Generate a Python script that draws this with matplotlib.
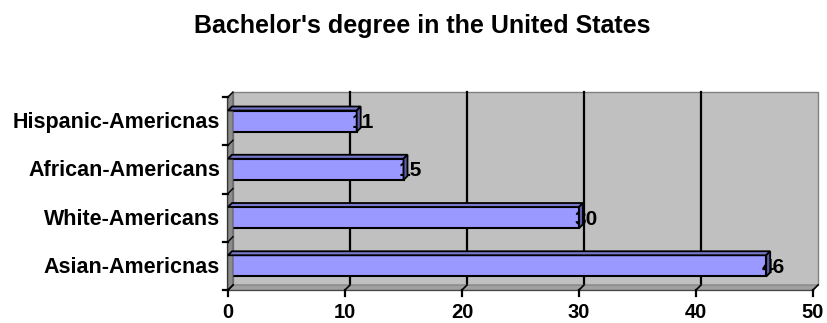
import matplotlib
matplotlib.use("Agg")
import matplotlib.pyplot as plt
from matplotlib.patches import Polygon, Rectangle
from matplotlib.transforms import offset_copy

categories = ["Asian-Americnas", "White-Americans", "African-Americans", "Hispanic-Americnas"]
values = [46, 30, 15, 11]
xticks = [0, 10, 20, 30, 40, 50]
title = "Bachelor's degree in the United States"

DPI = 100
W, H = 827, 323
fig = plt.figure(figsize=(W / DPI, H / DPI), dpi=DPI)
fig.patch.set_facecolor("white")
ax = fig.add_axes([228 / W, 33 / H, 585 / W, 193 / H])
ax.set_xlim(0, 50)
ax.set_ylim(-0.5, len(categories) - 0.5)
ax.axis("off")

FONT = "Liberation Sans"
D = 5  # depth offset in pixels
back = offset_copy(ax.transData, fig=fig, x=D, y=D, units="dots")
ymin, ymax = -0.5, len(categories) - 0.5

# back wall
ax.add_patch(Rectangle((0, ymin), 50, ymax - ymin, transform=back,
                       facecolor="#C0C0C0", edgecolor="#808080", lw=1, zorder=0, clip_on=False))
# gridlines on back wall
for t in xticks[1:-1]:
    ax.plot([t, t], [ymin, ymax], color="black", lw=1.6, transform=back, zorder=1, clip_on=False)

def px(x, y):
    return ax.transData.transform((x, y))

# floor
p0 = px(0, ymin); p1 = px(50, ymin)
floor = Polygon([p0, p1, (p1[0] + D, p1[1] + D), (p0[0] + D, p0[1] + D)], closed=True,
                transform=None, facecolor="#A0A0A0", edgecolor="#808080", lw=0.8, zorder=1)
fig.add_artist(floor)
# left wall
q0 = px(0, ymin); q1 = px(0, ymax)
lwall = Polygon([q0, q1, (q1[0] + D, q1[1] + D), (q0[0] + D, q0[1] + D)], closed=True,
                transform=None, facecolor="#8C8C8C", edgecolor="#606060", lw=0.8, zorder=1)
fig.add_artist(lwall)
# floor diagonal tick connectors
for t in xticks:
    a = px(t, ymin)
    fig.add_artist(plt.Line2D([a[0], a[0] + D], [a[1], a[1] + D], transform=None,
                              color="black", lw=1.2, zorder=2))
for i in range(len(categories) + 1):
    a = px(0, ymin + i)
    fig.add_artist(plt.Line2D([a[0], a[0] + D], [a[1], a[1] + D], transform=None,
                              color="black", lw=1.0, zorder=2))

# bars
bh = 0.44
ypos = list(range(len(categories)))
bars = ax.barh(ypos, values, height=bh, color="#9999FF", edgecolor="black", lw=1.5, zorder=5)
d = 4
for y, v in zip(ypos, values):
    x0, yb = px(0, y - bh / 2)
    x1, yt = px(v, y + bh / 2)
    top = Polygon([(x0, yt), (x1, yt), (x1 + d, yt + d), (x0 + d, yt + d)], closed=True,
                  transform=None, facecolor="#7777CC", edgecolor="black", lw=1.3, zorder=6)
    side = Polygon([(x1, yb), (x1, yt), (x1 + d, yt + d), (x1 + d, yb + d)], closed=True,
                   transform=None, facecolor="#5C5CA8", edgecolor="black", lw=1.3, zorder=6)
    fig.add_artist(top); fig.add_artist(side)
    lab = offset_copy(ax.transData, fig=fig, x=-5, y=-7, units="dots")
    ax.text(v, y, f"{v}", transform=lab, ha="left", va="baseline", fontsize=15,
            fontweight="bold", family=FONT, zorder=10, clip_on=False)

# front axes lines
ax.plot([0, 50], [ymin, ymin], color="black", lw=1.6, zorder=8, clip_on=False)
ax.plot([0, 0], [ymin, ymax], color="black", lw=1.6, zorder=8, clip_on=False)
for t in xticks:
    a = px(t, ymin)
    fig.add_artist(plt.Line2D([a[0], a[0]], [a[1], a[1] - 6], transform=None,
                              color="black", lw=1.6, zorder=8))
    ax.text(t, ymin, str(t), transform=offset_copy(ax.transData, fig=fig, x=0, y=-28, units="dots"),
            ha="center", va="baseline", fontsize=14.5, fontweight="bold", family=FONT)
for i in range(len(categories) + 1):
    a = px(0, ymin + i)
    fig.add_artist(plt.Line2D([a[0] - 5, a[0]], [a[1], a[1]], transform=None,
                              color="black", lw=1.6, zorder=8))
for y, c in zip(ypos, categories):
    ax.text(0, y, c, transform=offset_copy(ax.transData, fig=fig, x=-8, y=-7, units="dots"),
            ha="right", va="baseline", fontsize=15.5, fontweight="bold", family=FONT)

fig.text(422 / W, 1 - 33 / H, title, ha="center", va="baseline", fontsize=18,
         fontweight="bold", family=FONT)

fig.savefig("out.png", dpi=DPI, facecolor="white")
